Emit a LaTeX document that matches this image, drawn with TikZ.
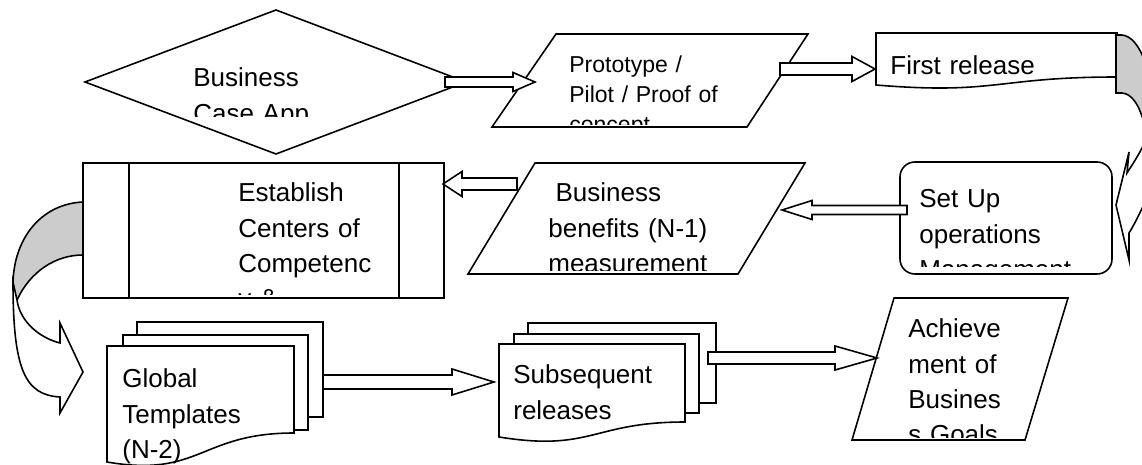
\documentclass[tikz,border=0pt]{standalone}
\usepackage{fontspec}
\setmainfont{Liberation Sans}
\usetikzlibrary{calc}

\tikzset{
  flow/.style={draw, line width=0.9pt, fill=white, line join=miter},
  backside/.style={flow, fill=black!20},
  bar/.style={draw, line width=0.9pt},
  txt/.style={inner sep=0pt, anchor=base west, align=left, text width=7cm,
              font=\fontsize{14.8}{20}\selectfont},
  smalltxt/.style={txt, font=\fontsize{13.1}{17}\selectfont},
}

% start, end, shaft half-width, head half-width, head length (px)
\newcommand\fatarrow[5]{%
  \coordinate (fa-t) at (#2 |- #1);
  \coordinate (fa-b) at ($(fa-t)!#5*0.569pt!(#1)$);
  \draw[flow] ($(#1)+(0,-#3)$) -- ($(fa-b)+(0,-#3)$) -- ($(fa-b)+(0,-#4)$) -- (fa-t)
    -- ($(fa-b)+(0,#4)$) -- ($(fa-b)+(0,#3)$) -- ($(#1)+(0,#3)$) -- cycle;
}

\begin{document}
\begin{tikzpicture}[x=0.02cm, y=-0.02cm]
\useasboundingbox (0,0) rectangle (1142,465);

\draw[flow] (85,82) -- (276,10) -- (466,82) -- (276,154) -- cycle;
\begin{scope}
  \clip (150,30) rectangle (430,117);
  \node[txt] (case) at (193,87) {Business\\Case App};
\end{scope}

\draw[flow] (556,34) -- (808,34) -- (747,127) -- (492,127) -- cycle;
\begin{scope}
  \clip (540,40) rectangle (790,125);
  \node[smalltxt] (proto) at (569,73) {Prototype /\\Pilot / Proof of\\concept};
\end{scope}

\draw[flow] (876,33) -- (1117,33) -- (1117,77)
  .. controls (996,77) and (996,95) .. (876,85) -- cycle;
\node[txt] (first) at (890,75) {First release};

\begin{scope}
  \clip (1000,0) rectangle (1142,465);
  \draw[backside] (1116,35) -- (1122,35) .. controls (1131,36) and (1139,45) .. (1145,62)
    -- (1160,62) -- (1160,126) -- (1145,126)
    .. controls (1139,104) and (1132,94) .. (1122,93) -- (1116,93) -- cycle;
  \draw[flow] (1127,173) -- (1129,152) -- (1116,205) -- (1129,260) -- (1129,233)
    .. controls (1134,225) and (1139,215) .. (1146,200) -- (1160,200) -- (1160,140)
    -- (1146,140) .. controls (1139,155) and (1132,165) .. (1127,173) -- cycle;
\end{scope}

\draw[flow, rounded corners=8.5pt] (900,162) rectangle (1112,274);
\begin{scope}
  \clip (905,170) rectangle (1110,267);
  \node[txt] (setup) at (919,208) {Set Up\\operations\\Management};
\end{scope}

\draw[flow] (535,163) -- (805,163) -- (738,274) -- (468,274) -- cycle;
\begin{scope}
  \clip (500,170) rectangle (790,271);
  \node[txt] (benefit) at (548,202) {\hspace*{0.28em}Business\\benefits (N-1)\\measurement};
\end{scope}

\draw[flow] (83,163) rectangle (444,298);
\draw[bar] (129,163) -- (129,298) (399,163) -- (399,298);
\begin{scope}
  \clip (200,170) rectangle (395,295);
  \node[txt] (centers) at (238,202) {Establish\\Centers of\\Competenc\\y \&};
\end{scope}

\draw[backside] (83,202) .. controls (40,204) and (13,240) .. (13,285)
  .. controls (13,292) and (15,297) .. (17,300)
  .. controls (30,272) and (55,255) .. (83,255) -- cycle;
\draw[flow] (13,282) .. controls (13,370) and (25,395) .. (60,397) -- (60,413) -- (83,372)
  -- (60,323) -- (60,343) .. controls (40,338) and (20,322) .. (17,300) -- cycle;

\draw[flow] (137,322) rectangle (323,417);
\draw[flow] (123,335) rectangle (308,430);
\draw[flow] (107,346) -- (294,346) -- (294,433)
  .. controls (200,433) and (200,478) .. (107,462) -- cycle;
\node[txt] (global) at (122,388) {Global\\Templates\\(N-2)};

\draw[flow] (528,323) rectangle (716,403);
\draw[flow] (514,334) rectangle (699,413);
\draw[flow] (499,344) -- (685,344) -- (685,422)
  .. controls (592,422) and (592,452) .. (499,437) -- cycle;
\node[txt] (subseq) at (513,384) {Subsequent\\releases};

\draw[flow] (894,298) -- (1068,298) -- (1025,440) -- (852,440) -- cycle;
\begin{scope}
  \clip (870,300) rectangle (1060,438);
  \node[txt] (goals) at (908,338) {Achieve\\ment of\\Busines\\s Goals};
\end{scope}

\coordinate (case-out) at (445,82);
\coordinate (proto-in) at (535,82);
\coordinate (proto-out) at (780,69);
\coordinate (first-in) at (875,69);
\coordinate (setup-out) at (907,210);
\coordinate (benefit-in) at (782,210);
\coordinate (benefit-out) at (517,184);
\coordinate (centers-in) at (443,184);
\coordinate (global-out) at (323,382);
\coordinate (subseq-in) at (494,382);
\coordinate (subseq-out) at (708,358);
\coordinate (goals-in) at (877,358);

\fatarrow{case-out}{proto-in}{5}{9.5}{22}
\fatarrow{proto-out}{first-in}{6}{12.5}{23}
\fatarrow{setup-out}{benefit-in}{4.5}{9.5}{30}
\fatarrow{benefit-out}{centers-in}{6}{12.5}{19}
\fatarrow{global-out}{subseq-in}{7}{13}{42}
\fatarrow{subseq-out}{goals-in}{6}{12}{42}
\end{tikzpicture}
\end{document}
